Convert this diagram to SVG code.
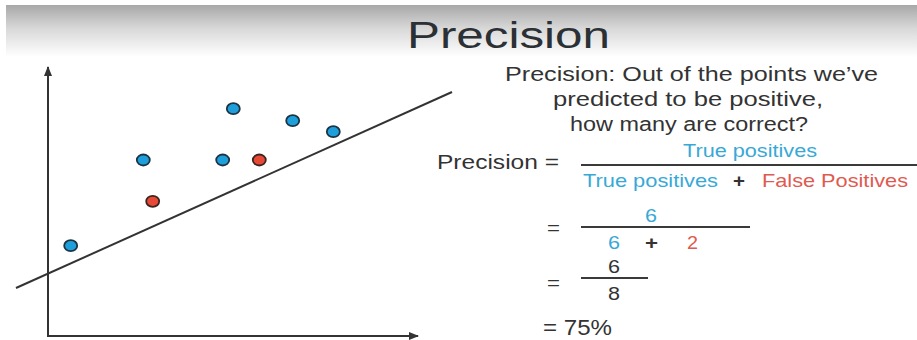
<svg xmlns="http://www.w3.org/2000/svg" width="917" height="340" viewBox="0 0 917 340">
<defs>
<linearGradient id="band" x1="0" y1="0" x2="0" y2="1">
<stop offset="0" stop-color="#a8a8a8"/>
<stop offset="0.45" stop-color="#d8d8d8"/>
<stop offset="1" stop-color="#ffffff"/>
</linearGradient>
<marker id="arrow" markerUnits="userSpaceOnUse" markerWidth="10" markerHeight="8" refX="9" refY="4" orient="auto">
<path d="M0,0 L10,4 L0,8 Z" fill="#333"/>
</marker>
</defs>
<style>
text{font-family:"Liberation Sans",Arial,Helvetica,sans-serif;}
.dark{fill:#333;}
.blue{fill:#38a9d6;}
.red{fill:#df5a50;}
.ax{stroke:#333;stroke-width:2;fill:none;}
.bar{stroke:#3a3a3a;stroke-width:2;}
.pb{fill:#1e9fdb;stroke:#1b3442;stroke-width:1.8;}
.pr{fill:#e64a36;stroke:#3a2420;stroke-width:1.8;}
</style>
<rect width="917" height="340" fill="#fff"/>
<rect x="6" y="5" width="911" height="52" fill="url(#band)"/>
<g id="title"><text x="407" y="47.5" font-size="37" textLength="203" lengthAdjust="spacingAndGlyphs" fill="#2b3035">Precision</text></g>
<g id="connectors">
<line class="ax" x1="48" y1="336" x2="48" y2="67" marker-end="url(#arrow)"/>
<line class="ax" x1="47" y1="336" x2="418" y2="336" marker-end="url(#arrow)"/>
<line class="ax" x1="16" y1="288" x2="452" y2="92"/>
</g>
<g id="point1"><ellipse class="pb" cx="70.7" cy="245.7" rx="6.5" ry="5.5"/></g>
<g id="point2"><ellipse class="pb" cx="143.3" cy="160" rx="6.5" ry="5.5"/></g>
<g id="point3"><ellipse class="pr" cx="152.7" cy="201.3" rx="6.5" ry="5.5"/></g>
<g id="point4"><ellipse class="pb" cx="233.3" cy="108.7" rx="6.5" ry="5.5"/></g>
<g id="point5"><ellipse class="pb" cx="222.7" cy="160" rx="6.5" ry="5.5"/></g>
<g id="point6"><ellipse class="pr" cx="259.3" cy="160" rx="6.5" ry="5.5"/></g>
<g id="point7"><ellipse class="pb" cx="292.7" cy="120.7" rx="6.5" ry="5.5"/></g>
<g id="point8"><ellipse class="pb" cx="333.3" cy="131.7" rx="6.5" ry="5.5"/></g>
<g id="definition" class="dark" font-size="19.5">
<text x="505" y="81" textLength="373" lengthAdjust="spacingAndGlyphs">Precision: Out of the points we’ve</text>
<text x="553" y="106" textLength="270" lengthAdjust="spacingAndGlyphs">predicted to be positive,</text>
<text x="570" y="131" textLength="238" lengthAdjust="spacingAndGlyphs">how many are correct?</text>
</g>
<g id="formula">
<text class="dark" x="437" y="169" font-size="20" textLength="122" lengthAdjust="spacingAndGlyphs">Precision =</text>
<text class="blue" x="683" y="157" font-size="17.5" textLength="134" lengthAdjust="spacingAndGlyphs">True positives</text>
<line class="bar" x1="581" y1="165" x2="917" y2="165"/>
<text class="blue" x="583" y="187" font-size="18.5" textLength="135" lengthAdjust="spacingAndGlyphs">True positives</text>
<text class="dark" x="733" y="187" font-size="19" font-weight="bold" textLength="12" lengthAdjust="spacingAndGlyphs">+</text>
<text class="red" x="762" y="187" font-size="18.5" textLength="146" lengthAdjust="spacingAndGlyphs">False Positives</text>
</g>
<g id="step1">
<text class="dark" x="547" y="233.5" font-size="19" textLength="13" lengthAdjust="spacingAndGlyphs">=</text>
<text class="blue" x="645" y="222" font-size="17.5" textLength="12" lengthAdjust="spacingAndGlyphs">6</text>
<line class="bar" x1="581" y1="227" x2="750" y2="227"/>
<text class="blue" x="608" y="249" font-size="17.5" textLength="12" lengthAdjust="spacingAndGlyphs">6</text>
<text class="dark" x="645" y="249" font-size="18" font-weight="bold" textLength="13" lengthAdjust="spacingAndGlyphs">+</text>
<text class="red" x="687" y="249" font-size="17.5" textLength="11" lengthAdjust="spacingAndGlyphs">2</text>
</g>
<g id="step2">
<text class="dark" x="547" y="288.5" font-size="19" textLength="13" lengthAdjust="spacingAndGlyphs">=</text>
<text class="dark" x="608" y="273" font-size="17.5" textLength="12" lengthAdjust="spacingAndGlyphs">6</text>
<line class="bar" x1="581" y1="278" x2="648" y2="278"/>
<text class="dark" x="608" y="300" font-size="17.5" textLength="12" lengthAdjust="spacingAndGlyphs">8</text>
</g>
<g id="result">
<text class="dark" x="543" y="335" font-size="21.5" textLength="69" lengthAdjust="spacingAndGlyphs">= 75%</text>
</g>
</svg>
